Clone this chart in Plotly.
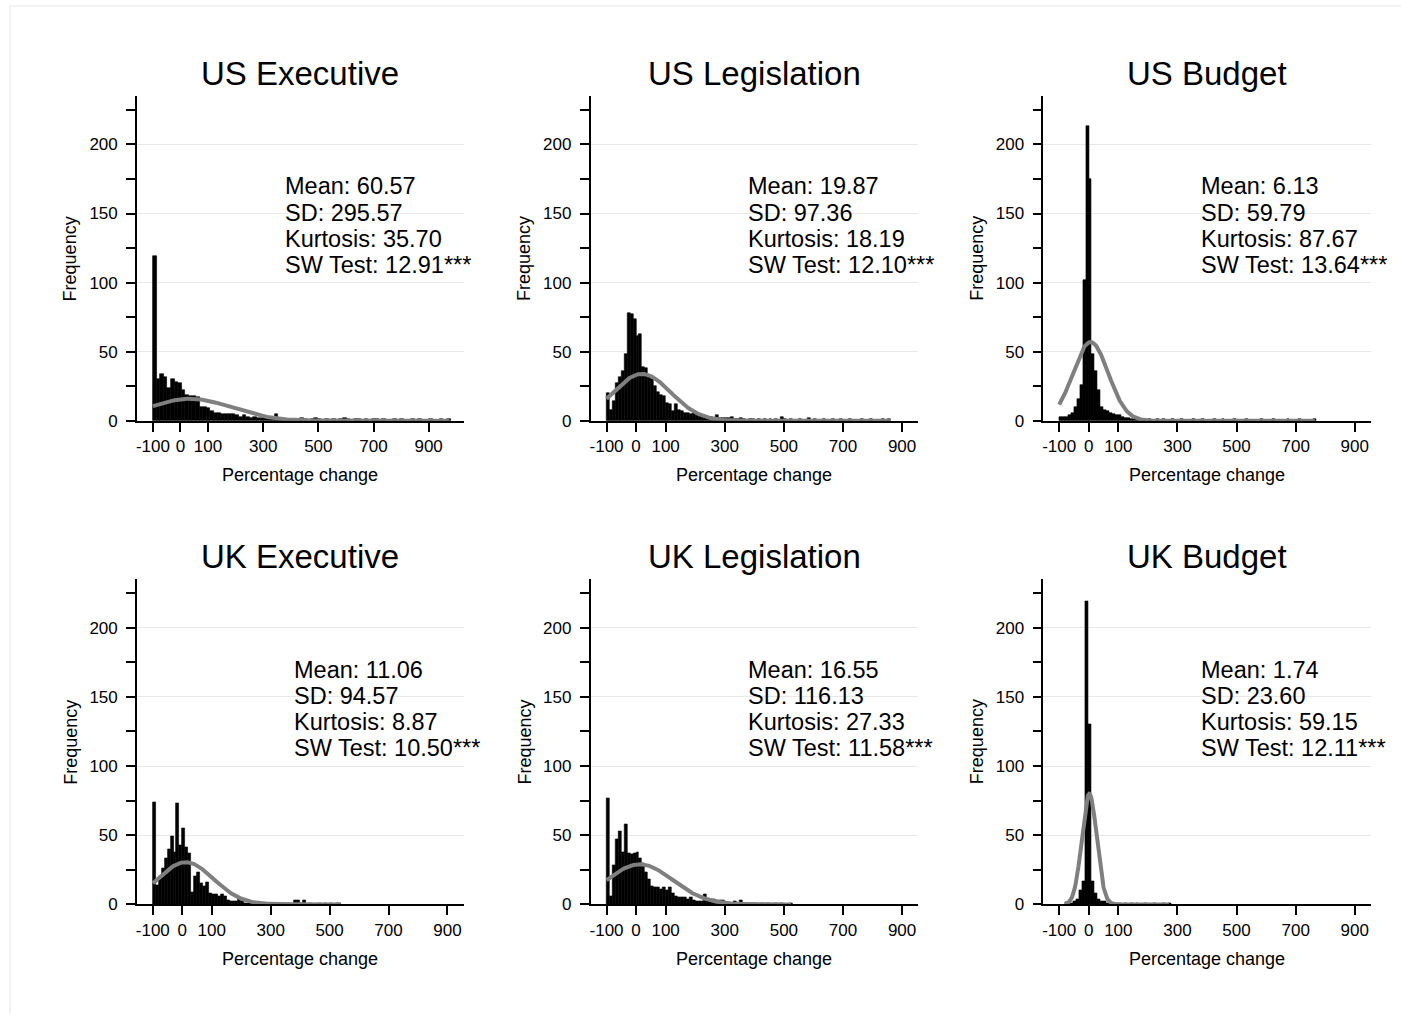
import numpy as np
import plotly.graph_objects as go

# ---------------- data ----------------
titles = ["US Executive", "US Legislation", "US Budget",
          "UK Executive", "UK Legislation", "UK Budget"]
mean_txt = ["60.57", "19.87", "6.13", "11.06", "16.55", "1.74"]
sd_txt = ["295.57", "97.36", "59.79", "94.57", "116.13", "23.60"]
kurt_txt = ["35.70", "18.19", "87.67", "8.87", "27.33", "59.15"]
sw_txt = ["12.91***", "12.10***", "13.64***", "10.50***", "11.58***", "12.11***"]

x_ticks = [-100, 0, 100, 300, 500, 700, 900]
y_ticks = [0, 50, 100, 150, 200]
y_minor = [25, 75, 125, 175, 225]

bin_start = [-100, -100, -100, -100, -100, -81]
bin_width = [13, 10, 10, 10, 10, 10]

us_exec = [119, 30, 34, 32, 24, 30, 28, 27, 22, 19,
           18, 18, 17, 10, 10, 9, 7, 6, 6, 5,
           5, 5, 5, 4, 3, 4, 3, 2, 3, 2,
           2, 2, 1, 2, 5, 1, 1, 1, 1, 0,
           1, 2, 1, 0, 1, 2, 1, 0, 1, 0,
           1, 0, 1, 2, 1, 0, 1, 1, 0, 1,
           0, 1, 1, 0, 1, 0, 0, 1, 0, 1,
           0, 0, 1, 0, 1, 0, 0, 1, 0, 0,
           1, 0, 1]
us_leg = [20, 8, 14, 27, 32, 36, 48, 78, 77, 74,
          61, 63, 39, 38, 33, 30, 25, 21, 19, 18,
          13, 12, 7, 12, 8, 7, 6, 6, 5, 6,
          5, 5, 4, 3, 3, 3, 2, 4, 2, 2,
          2, 2, 3, 1, 1, 2, 1, 0, 1, 1,
          0, 1, 0, 1, 0, 1, 0, 1, 0, 3,
          1, 0, 1, 0, 0, 1, 0, 0, 2, 0,
          1, 0, 0, 1, 0, 0, 1, 0, 0, 1,
          0, 0, 1, 0, 0, 0, 1, 0, 0, 1,
          0, 0, 0, 1, 0, 1]
us_budget = [3, 3, 3, 4, 6, 10, 16, 26, 102, 213,
             175, 48, 36, 22, 10, 8, 7, 6, 5, 4,
             4, 3, 2, 2, 1, 1, 1, 0, 1, 0,
             1, 0, 0, 1, 0, 1, 0, 0, 1, 0,
             0, 1, 0, 0, 0, 1, 0, 0, 1, 0,
             0, 0, 1, 0, 0, 1, 0, 0, 0, 1,
             0, 0, 0, 1, 0, 0, 0, 0, 1, 0,
             0, 0, 1, 0, 0, 0, 0, 1, 0, 0,
             0, 1, 0, 0, 0, 0, 1]
uk_exec = [74, 14, 20, 26, 33, 40, 49, 38, 73, 43,
           55, 41, 37, 9, 20, 23, 15, 13, 16, 8,
           7, 7, 6, 7, 6, 3, 2, 2, 2, 4,
           2, 1, 1, 1, 1, 0, 1, 1, 0, 1,
           1, 0, 1, 0, 1, 0, 1, 0, 3, 3,
           1, 3, 0, 1, 0, 0, 1, 0, 1, 0,
           1, 0, 1, 1]
uk_leg = [77, 6, 28, 47, 53, 38, 58, 37, 36, 37,
          38, 33, 30, 23, 18, 13, 12, 12, 11, 12,
          10, 12, 8, 6, 5, 5, 5, 4, 5, 3,
          2, 2, 2, 7, 2, 4, 4, 3, 3, 3,
          1, 1, 1, 2, 1, 3, 1, 1, 1, 1,
          1, 0, 1, 0, 1, 0, 0, 1, 0, 1,
          0, 0, 1]
uk_budget = [1, 1, 1, 2, 4, 10, 17, 219, 130, 17,
             8, 4, 2, 2, 1, 1, 0, 1, 1, 0,
             1, 0, 1, 0, 1, 0, 0, 1, 0, 0,
             1, 0, 0, 1, 0, 1]
counts = [us_exec, us_leg, us_budget, uk_exec, uk_leg, uk_budget]

# normal-curve overlay (centre, spread, peak height, extent)
curve_mean = [35, 19.87, 6.13, 11.06, 12, 1.74]
curve_sd = [150, 97.36, 59.79, 94.57, 112, 25]
curve_peak = [16, 34, 57, 30.5, 29, 80]
data_min = [-100, -100, -100, -100, -100, -81]
data_max = [975, 860, 765, 538, 525, 272]

# ---------------- layout geometry ----------------
W, H = 1401, 1024
col_px = [(136, 463), (590, 918), (1043, 1371)]
row_px = [(97, 425), (585, 913.3)]
x_ranges = [(-158, 1027), (-154, 955), (-154, 955),
            (-154, 955), (-154, 955), (-154, 955)]
y_range = (0, 235)
FONT = "Liberation Sans, Arial, sans-serif"
STAT_Y = [188.3, 214.6, 240.9, 267.2]   # pixel offsets of stat lines (row 1)


def px_x(x):
    return x / W


def px_y(y):
    return 1 - y / H


fig = go.Figure()
annotations = []
layout_axes = {}

for i in range(6):
    r, c = divmod(i, 3)
    sfx = "" if i == 0 else str(i + 1)
    xa, ya = "x" + sfx, "y" + sfx
    w = bin_width[i]
    centers = [bin_start[i] + w * (k + 0.5) for k in range(len(counts[i]))]
    fig.add_trace(go.Bar(
        x=centers, y=counts[i], width=w,
        marker=dict(color="black", line=dict(color="black", width=0.6)),
        xaxis=xa, yaxis=ya, showlegend=False, hoverinfo="skip"))
    xs = np.linspace(data_min[i], data_max[i], 400)
    ys = curve_peak[i] * np.exp(-0.5 * ((xs - curve_mean[i]) / curve_sd[i]) ** 2)
    fig.add_trace(go.Scatter(
        x=xs, y=ys, mode="lines",
        line=dict(color="#7f7f7f", width=4),
        xaxis=xa, yaxis=ya, showlegend=False, hoverinfo="skip"))

    x0, x1 = col_px[c]
    y0, y1 = row_px[r]
    layout_axes["xaxis" + sfx] = dict(
        domain=[px_x(x0), px_x(x1)], range=list(x_ranges[i]), anchor=ya,
        tickmode="array", tickvals=x_ticks, ticktext=[str(v) for v in x_ticks],
        tickangle=0, ticks="outside", ticklen=9, tickwidth=1.5, tickcolor="black",
        showline=True, linecolor="black", linewidth=1.5,
        showgrid=False, zeroline=False,
        tickfont=dict(size=17, color="black", family=FONT))
    layout_axes["yaxis" + sfx] = dict(
        domain=[px_y(y1), px_y(y0)], range=list(y_range), anchor=xa,
        tickmode="array", tickvals=y_ticks, ticktext=[str(v) for v in y_ticks],
        ticks="outside", ticklen=9, tickwidth=1.5, tickcolor="black",
        ticklabelstandoff=5,
        showline=True, linecolor="black", linewidth=1.5,
        showgrid=True, gridcolor="#e8e8e8", gridwidth=1, zeroline=False,
        minor=dict(tickmode="array", tickvals=y_minor, ticks="outside",
                   ticklen=9, tickwidth=1.5, tickcolor="black", showgrid=False),
        tickfont=dict(size=17, color="black", family=FONT))

    # title
    annotations.append(dict(
        text=titles[i], xref="paper", yref="paper",
        x=px_x((x0 + x1) / 2), y=px_y(y0 - 23),
        xanchor="center", yanchor="middle", showarrow=False,
        font=dict(size=33, color="black", family=FONT)))
    # axis titles
    annotations.append(dict(
        text="Frequency", xref="paper", yref="paper",
        x=px_x(x0 - 66), y=px_y((y0 + y1) / 2), textangle=-90,
        xanchor="center", yanchor="middle", showarrow=False,
        font=dict(size=18, color="black", family=FONT)))
    annotations.append(dict(
        text="Percentage change", xref="paper", yref="paper",
        x=px_x((x0 + x1) / 2), y=px_y(y1 + 55),
        xanchor="center", yanchor="middle", showarrow=False,
        font=dict(size=18, color="black", family=FONT)))
    # statistics text
    lines = ["Mean: " + mean_txt[i], "SD: " + sd_txt[i],
             "Kurtosis: " + kurt_txt[i], "SW Test: " + sw_txt[i]]
    for j, t in enumerate(lines):
        annotations.append(dict(
            text=t, xref=xa, yref="paper", x=375,
            y=px_y(y0 + STAT_Y[j] - 97),
            xanchor="left", yanchor="middle", showarrow=False, borderpad=0,
            font=dict(size=23.5, color="black", family=FONT)))

shapes = [
    dict(type="line", xref="paper", yref="paper", x0=px_x(9), x1=1, y0=px_y(6), y1=px_y(6),
         line=dict(color="#e2e7eb", width=1)),
    dict(type="line", xref="paper", yref="paper", x0=px_x(9), x1=px_x(9), y0=0, y1=px_y(6),
         line=dict(color="#e2e7eb", width=1)),
]

fig.update_layout(
    width=W, height=H, margin=dict(l=0, r=0, t=0, b=0),
    paper_bgcolor="white", plot_bgcolor="white",
    barmode="overlay", bargap=0,
    font=dict(family=FONT, color="black"),
    annotations=annotations, shapes=shapes,
    showlegend=False,
    **layout_axes)

fig.write_html("out.html", config={"displayModeBar": False},
               post_script="document.body.style.margin='0';document.body.style.overflow='hidden';")
